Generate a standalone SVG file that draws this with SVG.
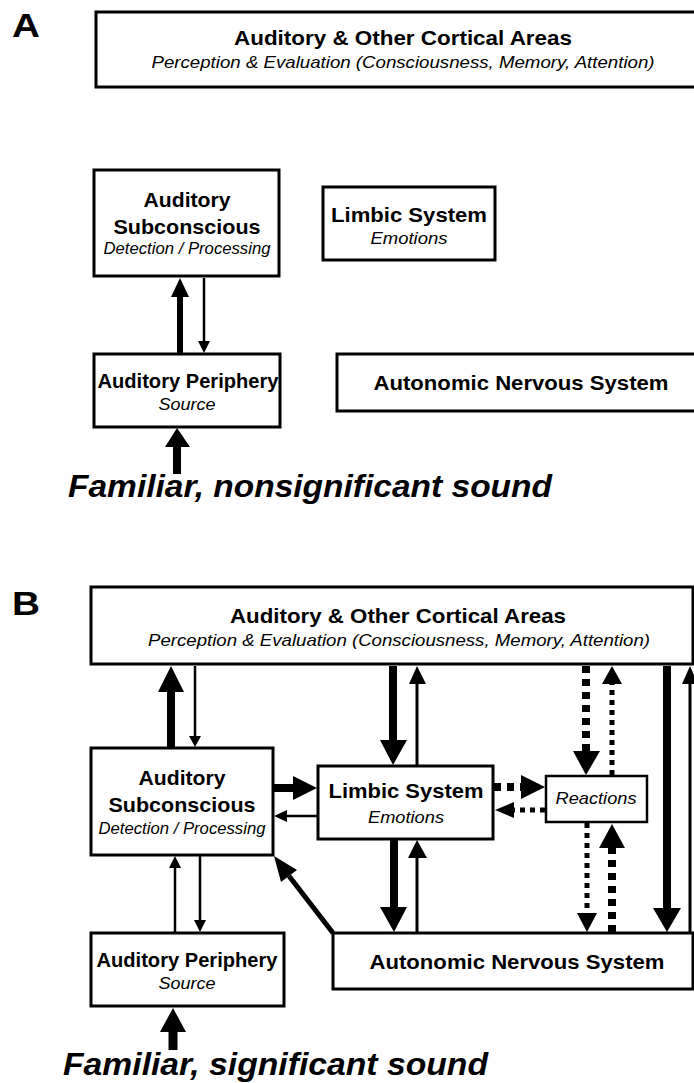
<svg xmlns="http://www.w3.org/2000/svg" width="694" height="1083" viewBox="0 0 694 1083">
<style>
.box{fill:#fff;stroke:#000;stroke-width:3}
.t{font-family:"Liberation Sans",Arial,sans-serif;text-anchor:middle;fill:#000}
.b{font-weight:bold;font-size:20.5px}
.i{font-style:italic;font-size:16.5px}
.big{font-family:"Liberation Sans",Arial,sans-serif;font-weight:bold;font-style:italic;font-size:32px}
.lab{font-family:"Liberation Sans",Arial,sans-serif;font-weight:bold;font-size:33px}
.s{stroke:#000;fill:none}
.thick{stroke-width:8}
.mid{stroke-width:6}
.thin{stroke-width:2.5}
.dash{stroke-width:8;stroke-dasharray:7 6}
.dot{stroke-width:5;stroke-dasharray:5 5}
.h{fill:#000;stroke:none}
</style>
<rect width="694" height="1083" fill="#fff"/>

<text class="lab" x="12" y="37" textLength="28" lengthAdjust="spacingAndGlyphs">A</text>
<text class="lab" x="12" y="615" textLength="28" lengthAdjust="spacingAndGlyphs">B</text>

<!-- Panel A nodes -->
<g id="a-cortex">
<rect class="box" x="96" y="12" width="640" height="75"/>
<text class="t b" x="403" y="45" textLength="338" lengthAdjust="spacingAndGlyphs">Auditory &amp; Other Cortical Areas</text>
<text class="t i" x="403" y="68" textLength="503" lengthAdjust="spacingAndGlyphs">Perception &amp; Evaluation (Consciousness, Memory, Attention)</text>
</g>
<g id="a-subconscious">
<rect class="box" x="94" y="170" width="185" height="106"/>
<text class="t b" x="187" y="207" textLength="87" lengthAdjust="spacingAndGlyphs">Auditory</text>
<text class="t b" x="187" y="234" textLength="147" lengthAdjust="spacingAndGlyphs">Subconscious</text>
<text class="t i" x="187" y="254" textLength="167" lengthAdjust="spacingAndGlyphs">Detection / Processing</text>
</g>
<g id="a-limbic">
<rect class="box" x="323" y="187" width="172" height="73"/>
<text class="t b" x="409" y="222" textLength="156" lengthAdjust="spacingAndGlyphs">Limbic System</text>
<text class="t i" x="409" y="244" textLength="77" lengthAdjust="spacingAndGlyphs">Emotions</text>
</g>
<g id="a-periphery">
<rect class="box" x="94" y="354" width="186" height="73"/>
<text class="t b" x="188" y="388" textLength="181" lengthAdjust="spacingAndGlyphs">Auditory Periphery</text>
<text class="t i" x="187" y="410" textLength="57" lengthAdjust="spacingAndGlyphs">Source</text>
</g>
<g id="a-ans">
<rect class="box" x="337" y="354" width="400" height="57"/>
<text class="t b" x="521" y="390" textLength="295" lengthAdjust="spacingAndGlyphs">Autonomic Nervous System</text>
</g>
<text class="big" x="68" y="497" textLength="484" lengthAdjust="spacingAndGlyphs">Familiar, nonsignificant sound</text>

<!-- Panel B nodes -->
<g id="b-cortex">
<rect class="box" x="91" y="587" width="602" height="77"/>
<text class="t b" x="398" y="623" textLength="336" lengthAdjust="spacingAndGlyphs">Auditory &amp; Other Cortical Areas</text>
<text class="t i" x="399" y="646" textLength="502" lengthAdjust="spacingAndGlyphs">Perception &amp; Evaluation (Consciousness, Memory, Attention)</text>
</g>
<g id="b-subconscious">
<rect class="box" x="91" y="748" width="182" height="107"/>
<text class="t b" x="182" y="785" textLength="87" lengthAdjust="spacingAndGlyphs">Auditory</text>
<text class="t b" x="182" y="812" textLength="147" lengthAdjust="spacingAndGlyphs">Subconscious</text>
<text class="t i" x="182" y="834" textLength="167" lengthAdjust="spacingAndGlyphs">Detection / Processing</text>
</g>
<g id="b-limbic">
<rect class="box" x="318" y="766" width="175" height="73"/>
<text class="t b" x="406" y="798" textLength="155" lengthAdjust="spacingAndGlyphs">Limbic System</text>
<text class="t i" x="406" y="823" textLength="76" lengthAdjust="spacingAndGlyphs">Emotions</text>
</g>
<g id="b-reactions">
<rect class="box" x="546" y="776" width="101" height="46" style="stroke-width:2.5"/>
<text class="t i" x="596" y="804" textLength="81" lengthAdjust="spacingAndGlyphs">Reactions</text>
</g>
<g id="b-ans">
<rect class="box" x="333" y="933" width="360" height="56"/>
<text class="t b" x="517" y="969" textLength="295" lengthAdjust="spacingAndGlyphs">Autonomic Nervous System</text>
</g>
<g id="b-periphery">
<rect class="box" x="91" y="933" width="193" height="73"/>
<text class="t b" x="187" y="967" textLength="181" lengthAdjust="spacingAndGlyphs">Auditory Periphery</text>
<text class="t i" x="187" y="989" textLength="57" lengthAdjust="spacingAndGlyphs">Source</text>
</g>
<text class="big" x="63" y="1075" textLength="425" lengthAdjust="spacingAndGlyphs">Familiar, significant sound</text>

<g id="connectors">
<!-- Panel A -->
<line class="s mid" x1="180" y1="353" x2="180" y2="295"/>
<polygon class="h" points="171,297 189,297 180,278"/>
<line class="s thin" x1="204" y1="278" x2="204" y2="343"/>
<polygon class="h" points="198,341 210,341 204,353"/>
<line class="s thick" x1="177" y1="474" x2="177" y2="445"/>
<polygon class="h" points="165,447 190,447 177,428"/>

<!-- Panel B -->
<line class="s thick" x1="171" y1="747" x2="171" y2="690"/>
<polygon class="h" points="158,692 184,692 171,666"/>
<line class="s thin" x1="195" y1="666" x2="195" y2="738"/>
<polygon class="h" points="189,736 201,736 195,747"/>

<line class="s thick" x1="274" y1="788" x2="295" y2="788"/>
<polygon class="h" points="293,776 293,800 317,788"/>
<line class="s thin" x1="317" y1="816" x2="285" y2="816"/>
<polygon class="h" points="287,810 287,822 274,816"/>

<line class="s thick" x1="393" y1="666" x2="393" y2="742"/>
<polygon class="h" points="380,740 407,740 393,765"/>
<line class="s thin" x1="417" y1="765" x2="417" y2="682" style="stroke-width:3"/>
<polygon class="h" points="409,684 426,684 417,666"/>

<line class="s dash" x1="494" y1="787" x2="522" y2="787"/>
<polygon class="h" points="521,775 521,799 545,787"/>
<line class="s dot" x1="545" y1="810" x2="513" y2="810"/>
<polygon class="h" points="514,802 514,818 495,810"/>

<line class="s dash" x1="586" y1="666" x2="586" y2="752"/>
<polygon class="h" points="573,751 600,751 586,775"/>
<line class="s dot" x1="612" y1="775" x2="612" y2="683"/>
<polygon class="h" points="602,684 622,684 612,666"/>

<line class="s dot" x1="587" y1="823" x2="587" y2="914"/>
<polygon class="h" points="577,913 597,913 587,932"/>
<line class="s dash" x1="612" y1="932" x2="612" y2="847"/>
<polygon class="h" points="599,848 625,848 612,824"/>

<line class="s thick" x1="394" y1="840" x2="394" y2="909"/>
<polygon class="h" points="380,907 407,907 394,932"/>
<line class="s thin" x1="417" y1="932" x2="417" y2="856" style="stroke-width:3"/>
<polygon class="h" points="408,858 427,858 417,840"/>

<line class="s thick" x1="667" y1="666" x2="667" y2="910"/>
<polygon class="h" points="653,908 681,908 667,932"/>
<line class="s thin" x1="690" y1="932" x2="690" y2="682" style="stroke-width:3"/>
<polygon class="h" points="682,684 698,684 690,666"/>

<line class="s" x1="333" y1="933" x2="289" y2="876" style="stroke-width:5"/>
<polygon class="h" points="297,870 281,882 274,856"/>

<line class="s thin" x1="175" y1="932" x2="175" y2="866"/>
<polygon class="h" points="169,868 181,868 175,856"/>
<line class="s thin" x1="200" y1="856" x2="200" y2="922"/>
<polygon class="h" points="194,920 206,920 200,932"/>

<line class="s" x1="173" y1="1050" x2="173" y2="1030" style="stroke-width:9"/>
<polygon class="h" points="160,1032 186,1032 173,1008"/>
</g>
</svg>
